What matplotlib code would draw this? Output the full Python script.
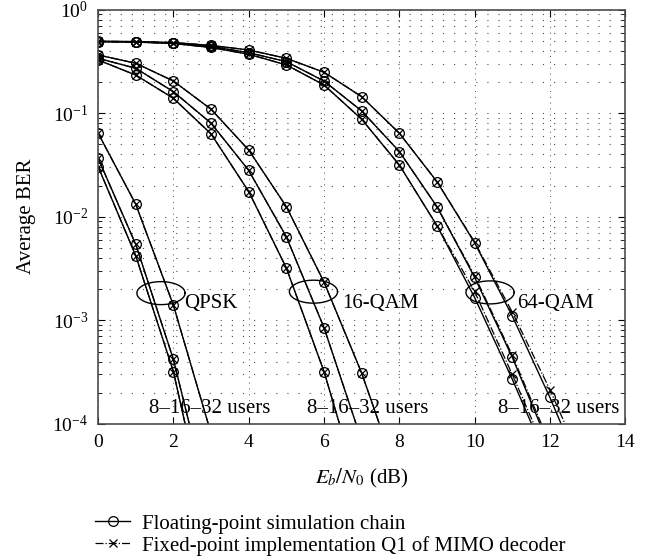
import numpy as np
from matplotlib import pyplot as plt

plt.rcParams['font.family'] = ['Liberation Serif', 'DejaVu Serif']
plt.rcParams['mathtext.fontset'] = 'stix'

# Eb/N0 points (dB)
snr = [0, 1, 2, 3, 4, 5, 6, 7, 8, 9, 10, 11, 12, 13]

# floating-point simulation chain, 8 / 16 / 32 users (curves stop below 1e-4)
qpsk_8 = [0.0305, 0.0042, 3.2e-4, 7.6e-6]
qpsk_16 = [0.0367, 0.0054, 4.2e-4, 1.4e-5]
qpsk_32 = [0.064, 0.0132, 1.4e-3, 8.1e-5]

qam16_8 = [0.326, 0.233, 0.139, 0.063, 0.0175, 0.0032, 3.2e-4, 1.9e-5]
qam16_16 = [0.338, 0.271, 0.161, 0.080, 0.028, 0.0064, 8.5e-4, 6.9e-5]
qam16_32 = [0.364, 0.303, 0.204, 0.109, 0.044, 0.0125, 0.00234, 3.1e-4, 2.8e-5]

qam64_8 = [0.49, 0.485, 0.47, 0.43, 0.37, 0.292, 0.187, 0.0873, 0.0316, 0.0082, 0.00166, 2.7e-4, 3.9e-5]
qam64_16 = [0.49, 0.487, 0.475, 0.44, 0.383, 0.314, 0.204, 0.105, 0.0426, 0.0125, 0.0026, 4.4e-4, 5.9e-5]
qam64_32 = [0.495, 0.49, 0.48, 0.45, 0.407, 0.338, 0.248, 0.144, 0.064, 0.0218, 0.0056, 0.0011, 1.8e-4, 2.5e-5]

# fixed-point implementation Q1 of MIMO decoder
fix_qpsk_8, fix_qpsk_16, fix_qpsk_32 = qpsk_8, qpsk_16, qpsk_32
fix_qam16_8, fix_qam16_16, fix_qam16_32 = qam16_8, qam16_16, qam16_32
fix_qam64_8 = [0.49, 0.485, 0.47, 0.43, 0.37, 0.292, 0.187, 0.0873, 0.0316, 0.0082, 0.0019, 3.0e-4, 4.4e-5]
fix_qam64_16 = [0.49, 0.487, 0.475, 0.44, 0.383, 0.314, 0.204, 0.105, 0.0426, 0.0125, 0.0027, 4.6e-4, 6.4e-5]
fix_qam64_32 = [0.495, 0.49, 0.48, 0.45, 0.407, 0.338, 0.248, 0.144, 0.064, 0.0218, 0.0057, 0.0012, 2.14e-4, 3.2e-5]

float_curves = [qpsk_8, qpsk_16, qpsk_32, qam16_8, qam16_16, qam16_32, qam64_8, qam64_16, qam64_32]
fixed_curves = [fix_qpsk_8, fix_qpsk_16, fix_qpsk_32, fix_qam16_8, fix_qam16_16, fix_qam16_32,
                fix_qam64_8, fix_qam64_16, fix_qam64_32]

# annotations: ellipse centre (dB, BER), label
mod_names = ['QPSK', '16-QAM', '64-QAM']
ellipse_x = [1.67, 5.72, 10.41]
ellipse_y = [1.83e-3, 1.89e-3, 1.86e-3]
name_x = [2.28, 6.49, 11.12]
users_x = [1.36, 5.54, 10.63]
users_label = '8\u201316\u201332 users'

fig = plt.figure(figsize=(6.54, 5.6), dpi=100)
ax = fig.add_axes([0.15, 0.243, 0.806, 0.740])

for i, y in enumerate(fixed_curves):
    ax.plot(snr[:len(y)], y, '-.', color='black', lw=0.9, marker='x', ms=6, mew=0.9,
            label='Fixed-point implementation Q1 of MIMO decoder' if i == 0 else None)
for i, y in enumerate(float_curves):
    ax.plot(snr[:len(y)], y, '-', color='black', lw=1.0, marker='o', ms=7, mew=0.9, mfc='none',
            label='Floating-point simulation chain' if i == 0 else None)

t = np.linspace(0, 2 * np.pi, 200)
for cx, cy, nx, ux, name in zip(ellipse_x, ellipse_y, name_x, users_x, mod_names):
    ax.plot(cx + 0.64 * np.cos(t), 10 ** (np.log10(cy) + 0.111 * np.sin(t)), color='black', lw=1.0)
    ax.text(nx, 10 ** -2.84, name, fontsize=15, ha='left', va='center')
    ax.text(ux, 10 ** -3.85, users_label, fontsize=15, ha='left', va='center')

ax.set_yscale('log')
ax.set_xlim(0, 14)
ax.set_ylim(1e-4, 1)
ax.set_xticks([0, 2, 4, 6, 8, 10, 12, 14])
ax.tick_params(which='both', direction='in', top=True, right=True, labelsize=14, pad=7)
ax.tick_params(which='major', length=5)
ax.tick_params(which='minor', length=3)
ax.grid(which='major', axis='x', linestyle=(0, (1, 5)), color='0.3', lw=0.7)
ax.grid(which='both', axis='y', linestyle=(0, (1, 9)), color='0.3', lw=0.8)
for s in ax.spines.values():
    s.set_linewidth(1.2)
    s.set_color('0.3')

ax.set_xlabel(r'$E_b/N_0$ (dB)', fontsize=15)
ax.set_ylabel('Average BER', fontsize=15)
ax.xaxis.set_label_coords(0.5, -0.104)
ax.yaxis.set_label_coords(-0.117, 0.5)

handles, labels = ax.get_legend_handles_labels()
fig.legend(handles[::-1], labels[::-1], loc='upper left', bbox_to_anchor=(0.145, 0.082),
           frameon=False, fontsize=15, handlelength=1.7, handletextpad=0.55,
           labelspacing=0.1, borderpad=0, borderaxespad=0)

plt.savefig('out.png', dpi=100)
